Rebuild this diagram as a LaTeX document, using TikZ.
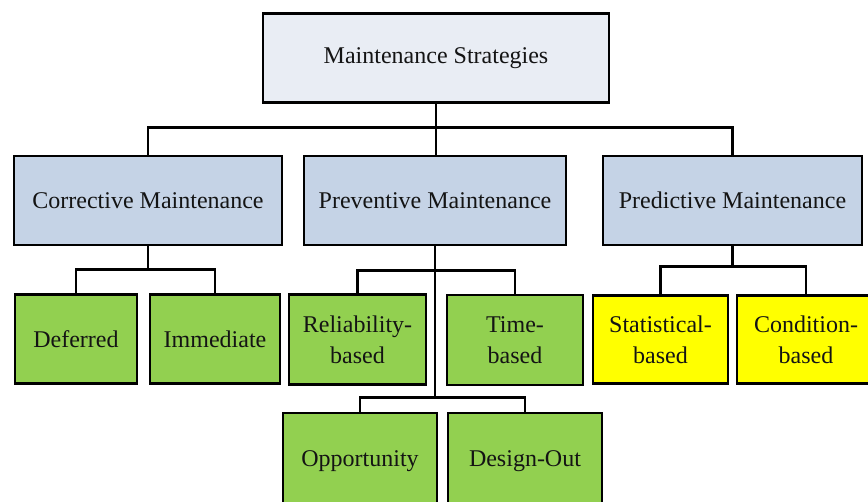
\documentclass[tikz,border=0pt]{standalone}
\usepackage{fontspec}
\setmainfont{Liberation Serif}
\usepackage{tikz}
\usetikzlibrary{positioning}
\definecolor{topblue}{HTML}{E9EDF4}
\definecolor{midblue}{HTML}{C5D3E6}
\definecolor{leafgreen}{HTML}{92D050}
\definecolor{leafyellow}{HTML}{FFFF00}
\tikzstyle{box} = [draw=black,line width=2.4pt,inner sep=0pt,align=center,minimum height=89pt,text=black!92,font=\fontsize{24}{31}\selectfont]
\tikzstyle{link} = [line width=2.8pt,black]
\begin{document}
\begin{tikzpicture}[x=1pt,y=-1pt]
    \useasboundingbox (0,0) rectangle (868,501);
    \clip (0,0) rectangle (868,501);
    % top level
    \node[box,fill=topblue,minimum width=346pt] (strat) at (436,58) {Maintenance Strategies};
    % second level
    \node[box,fill=midblue,minimum width=268pt] (corr) at (148,200.5) {Corrective Maintenance};
    \node[box,fill=midblue,minimum width=262pt] (prev) at (435,200.5) {Preventive Maintenance};
    \node[box,fill=midblue,minimum width=259pt] (pred) at (732.5,200.5) {Predictive Maintenance};
    % leaves
    \node[box,fill=leafgreen,minimum width=122pt] (defer) at (76,339) {Deferred};
    \node[box,fill=leafgreen,minimum width=130pt] (immed) at (215,339) {Immediate};
    \node[box,fill=leafgreen,minimum width=137pt,minimum height=90pt] (relia) at (357.5,339.5) {Reliability-\\based};
    \node[box,fill=leafgreen,minimum width=136pt,minimum height=90pt] (timeb) at (515,340) {Time-\\based};
    \node[box,fill=leafyellow,minimum width=135pt,minimum height=88pt] (stati) at (660.5,339.5) {Statistical-\\based};
    \node[box,fill=leafyellow,minimum width=138pt,minimum height=88pt] (condi) at (806,339.5) {Condition-\\based};
    \node[box,fill=leafgreen,minimum width=154pt,minimum height=96pt] (oppor) at (360,461) {Opportunity};
    \node[box,fill=leafgreen,minimum width=154pt,minimum height=96pt] (desig) at (525,461) {Design-Out};
    % connectors
    \draw[link] (strat.south) -- (strat.south |- prev.north);
    \draw[link] (strat.south) -- ++(0,24) -| (corr.north);
    \draw[link] (strat.south) -- ++(0,24) -| (pred.north);
    \draw[link] (corr.south) -- ++(0,23) -| (defer.north);
    \draw[link] (corr.south) -- ++(0,23) -| (immed.north);
    \draw[link] (prev.south) -- ++(0,24) -| (relia.north);
    \draw[link] (prev.south) -- ++(0,24) -| (timeb.north);
    \draw[link] (prev.south) -- ++(0,151) -| (oppor.north);
    \draw[link] (prev.south) -- ++(0,151) -| (desig.north);
    \draw[link] (pred.south) -- ++(0,20) -| (stati.north);
    \draw[link] (pred.south) -- ++(0,20) -| (condi.north);
\end{tikzpicture}
\end{document}
